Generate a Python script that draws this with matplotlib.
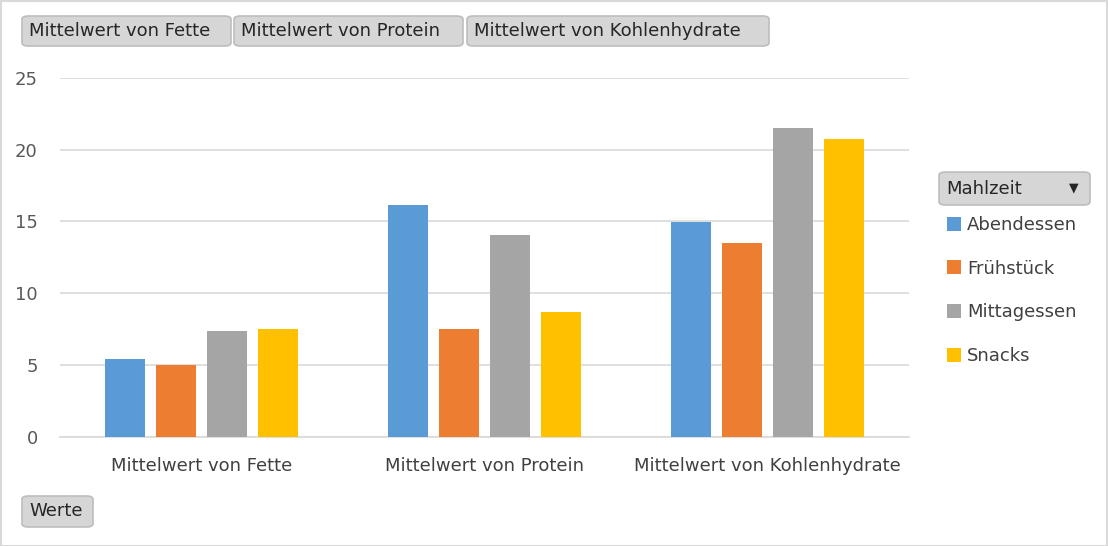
import matplotlib.pyplot as plt
import numpy as np
from matplotlib.patches import FancyBboxPatch, Rectangle

# data
kategorien = ['Mittelwert von Fette', 'Mittelwert von Protein', 'Mittelwert von Kohlenhydrate']
mahlzeiten = ['Abendessen', 'Frühstück', 'Mittagessen', 'Snacks']
abendessen = [5.38, 16.15, 14.97]
fruehstueck = [4.97, 7.47, 13.5]
mittagessen = [7.33, 14.06, 21.5]
snacks = [7.47, 8.65, 20.73]
farben = ['#5b9bd5', '#ed7d31', '#a5a5a5', '#ffc000']
yticks = [0, 5, 10, 15, 20, 25]

W, H = 1108, 546
FS = 13
fig = plt.figure(figsize=(W / 100, H / 100), dpi=100)
plt.rcParams['font.family'] = ['DejaVu Sans']

ax = fig.add_axes([60 / W, (H - 436.5) / H, (909 - 60) / W, (436.5 - 78) / H])

x = np.arange(len(kategorien))
step = 0.18
breite = 0.143
serien = [abendessen, fruehstueck, mittagessen, snacks]
for i, (werte, name, farbe) in enumerate(zip(serien, mahlzeiten, farben)):
    ax.bar(x + (i - 1.5) * step, werte, width=breite, color=farbe, label=name, zorder=3)

ax.set_xlim(-0.5, 2.5)
ax.set_ylim(0, 25)
ax.set_yticks(yticks)
ax.set_yticklabels([str(t) for t in yticks])
ax.set_xticks(x)
ax.set_xticklabels(kategorien)
ax.yaxis.grid(True, color='#d9d9d9', linewidth=1.2, zorder=0)
ax.set_axisbelow(True)
for s in ['top', 'right', 'left']:
    ax.spines[s].set_visible(False)
ax.spines['bottom'].set_color('#d9d9d9')
ax.spines['bottom'].set_linewidth(1.2)
ax.tick_params(axis='both', length=0, labelsize=FS, colors='#595959')
ax.tick_params(axis='y', pad=16)
ax.tick_params(axis='x', pad=14.5, labelcolor='#404040')

# legend
leg = fig.legend(loc='upper left', bbox_to_anchor=(947 / W, (H - 216) / H), frameon=False,
                 fontsize=FS, handlelength=0.8, handleheight=0.8, handletextpad=0.3,
                 labelspacing=1.42, borderaxespad=0, borderpad=0)
for t in leg.get_texts():
    t.set_color('#404040')

# pivot buttons
def knopf(x0, y0, x1, y1, text):
    p = FancyBboxPatch((x0 / W, 1 - y1 / H), (x1 - x0) / W, (y1 - y0) / H,
                       boxstyle='round,pad=0,rounding_size=0.006', transform=fig.transFigure,
                       facecolor='#d6d6d6', edgecolor='#bdbdbd', linewidth=1.2)
    fig.add_artist(p)
    fig.text((x0 + 7) / W, 1 - (y0 + y1) / 2 / H, text, fontsize=FS, color='#262626',
             ha='left', va='center')

knopf(22, 16, 231, 46, 'Mittelwert von Fette')
knopf(234, 16, 463, 46, 'Mittelwert von Protein')
knopf(467, 16, 769, 46, 'Mittelwert von Kohlenhydrate')
knopf(22, 496, 93, 527, 'Werte')
knopf(939, 172, 1090, 205, 'Mahlzeit')
fig.text(1074 / W, 1 - 188 / H, '▼', fontsize=9, color='#262626', ha='center', va='center')

# outer border
fig.add_artist(Rectangle((0.5 / W, 0.5 / H), 1 - 1.5 / W, 1 - 1.5 / H, transform=fig.transFigure,
                         fill=False, edgecolor='#d9d9d9', linewidth=1.5))

fig.savefig('out.png', dpi=100)
